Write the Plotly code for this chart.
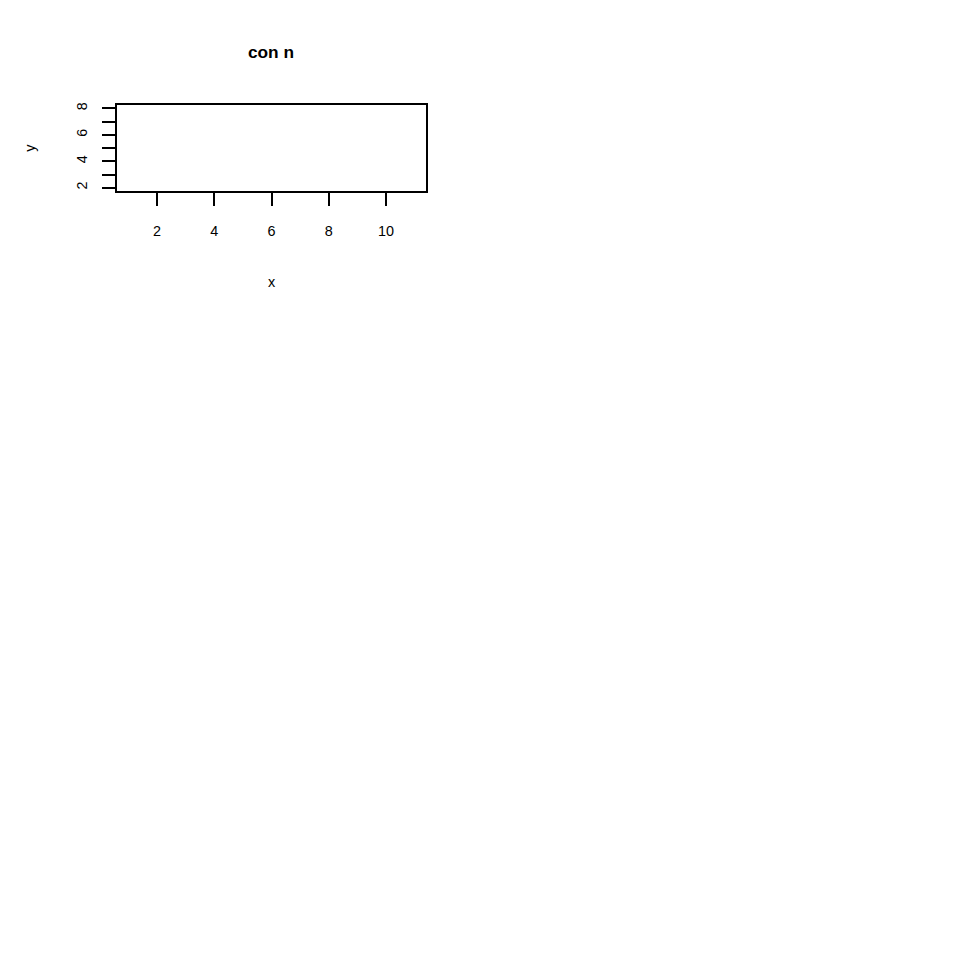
import plotly.graph_objects as go

# data limits of the (empty) plot, type = "n"
x_limits = [1, 11]
y_limits = [2, 8]
x_ticks = [2, 4, 6, 8, 10]
y_ticks = [2, 3, 4, 5, 6, 7, 8]
y_tick_labels = ["2", "", "4", "", "6", "", "8"]
title_text = "con n"
x_title = "x"
y_title = "y"

def ext(lim):
    d = (lim[1] - lim[0]) * 0.04
    return [lim[0] - d, lim[1] + d]

W = H = 960
L, R, T, B = 117, 426, 102.5, 188.5
FONT = "Liberation Sans, Arial, Helvetica, sans-serif"
FS = 14.4

fig = go.Figure()
fig.add_trace(go.Scatter(x=[], y=[], mode="markers", showlegend=False, hoverinfo="skip"))

axis_common = dict(
    showline=True, mirror=True, linecolor="black", linewidth=1.5,
    ticks="outside", ticklen=13, tickwidth=1.5, tickcolor="black",
    showgrid=False, zeroline=False,
    tickfont=dict(family=FONT, size=FS, color="black"),
)

fig.update_layout(
    width=W, height=H,
    margin=dict(l=0, r=0, t=0, b=0),
    paper_bgcolor="white", plot_bgcolor="white",
    showlegend=False,
    title=dict(text="<b>" + title_text + "</b>", x=271 / W, xanchor="center",
               y=1 - 49 / H, yanchor="middle", xref="paper", yref="paper",
               font=dict(family=FONT, size=17.3, color="black")),
    xaxis=dict(domain=[L / W, R / W], range=ext(x_limits),
               tickmode="array", tickvals=x_ticks, ticklabelstandoff=13,
               title=dict(text=x_title, standoff=39,
                          font=dict(family=FONT, size=FS, color="black")),
               **axis_common),
    yaxis=dict(domain=[1 - B / H, 1 - T / H], range=ext(y_limits),
               tickmode="array", tickvals=y_ticks, ticktext=y_tick_labels,
               tickangle=-90, ticklabelstandoff=9,
               title=dict(text=y_title, standoff=35,
                          font=dict(family=FONT, size=FS, color="black")),
               **axis_common),
)

fig.write_html("out.html", config={"displayModeBar": False},
               post_script="document.body.style.margin='0';document.body.style.overflow='hidden';")
